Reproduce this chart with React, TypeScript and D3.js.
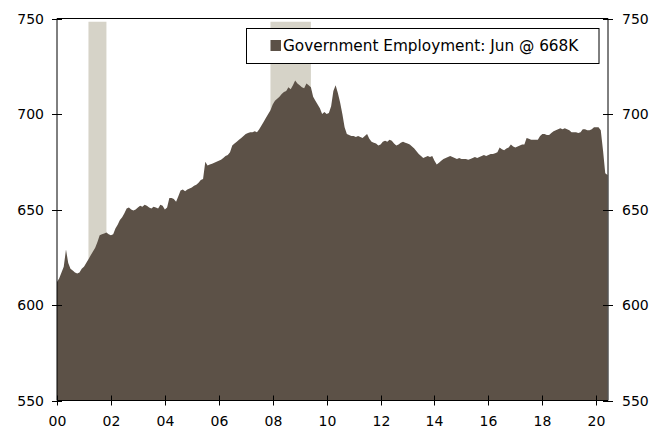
import React from "react";
import * as d3 from "d3";

// Monthly government employment (thousands), Jan 2000 .. Jun 2020
const v2000 = [612, 614, 617, 620, 629, 622, 619, 618, 617, 616.5, 617, 619];
const v2001 = [620, 622, 624, 626, 628, 630, 633, 636.5, 637, 637.5, 638, 637];
const v2002 = [636.5, 637, 640, 642, 644.5, 646, 648, 650.5, 651, 650, 649.5, 650];
const v2003 = [651, 652, 651.5, 652.5, 652, 651, 650.5, 651.5, 651, 650.5, 652.5, 652];
const v2004 = [650, 651, 656, 656, 655.5, 654, 657, 660, 660.5, 659.5, 660.5, 661];
const v2005 = [661.5, 662.5, 663, 664, 665.5, 666, 675, 673, 673.5, 674, 674.5, 675];
const v2006 = [675.5, 676, 677, 678, 678.5, 680, 683.5, 684.5, 685.5, 686.5, 687.5, 688.5];
const v2007 = [689.5, 690, 690.5, 690.5, 691, 690.5, 692, 694, 696, 698, 700, 702];
const v2008 = [705, 707, 708, 709, 710.5, 711.5, 712, 714, 713, 715, 717.5, 716];
const v2009 = [715, 714, 713.5, 716, 715, 714, 709, 707, 705, 703, 700, 701];
const v2010 = [700, 700.5, 704, 712, 715, 711, 706, 700, 693, 689.5, 689, 688.5];
const v2011 = [688.5, 688, 688.5, 688, 687.5, 688.5, 689.5, 687, 685.5, 685, 684.5, 683.5];
const v2012 = [684, 685.5, 686, 685.5, 686.5, 686, 684.5, 683.5, 684, 685, 685.5, 685];
const v2013 = [684.5, 684, 683, 682, 680.5, 679, 678, 677, 677.5, 678, 677.5, 678];
const v2014 = [675.5, 673.5, 674.5, 675.5, 676.5, 677, 677.5, 678, 677.5, 677, 676.5, 677];
const v2015 = [676.5, 676.5, 676.5, 676, 676.5, 677, 677.5, 677, 677.5, 678, 678.5, 678];
const v2016 = [678.5, 679, 679, 679.5, 680, 682.5, 681.5, 681, 682, 682.5, 684, 683];
const v2017 = [682.5, 683, 683.5, 684, 684, 687.5, 687, 686.5, 686.5, 686.5, 686.5, 688.5];
const v2018 = [689.5, 689.5, 689, 689, 690, 691, 691.5, 692, 692.5, 692, 692.5, 692];
const v2019 = [691.5, 690.5, 690.5, 690.5, 690, 690.5, 692, 692, 691.5, 691.5, 692, 693];
const v2020 = [693, 693, 691.5, 681, 669, 668];

const values: number[] = [
  ...v2000, ...v2001, ...v2002, ...v2003, ...v2004, ...v2005, ...v2006,
  ...v2007, ...v2008, ...v2009, ...v2010, ...v2011, ...v2012, ...v2013,
  ...v2014, ...v2015, ...v2016, ...v2017, ...v2018, ...v2019, ...v2020,
];

// Recessions as [start month index, end month index] from Jan 2000
const recessions: [number, number][] = [
  [14, 22],
  [95, 113],
];

const yTicks = [550, 600, 650, 700, 750];
const xTickYears = [0, 2, 4, 6, 8, 10, 12, 14, 16, 18, 20];
const xTickLabels = ["00", "02", "04", "06", "08", "10", "12", "14", "16", "18", "20"];
const legendLabel = "Government Employment: Jun @ 668K";

const W = 667;
const H = 430;
const left = 57;
const right = 608;
const top = 18.5;
const bottom = 400.5;

const AREA = "#5c5147";
const REC = "#d6d3c8";
const FONT = "'DejaVu Sans', Verdana, sans-serif";

export default function App() {
  const x = d3.scaleLinear().domain([0, values.length - 1]).range([left, right - 0.5]);
  const y = d3.scaleLinear().domain([550, 750]).range([bottom, top]);

  const area = d3
    .area<number>()
    .x((_, i) => x(i))
    .y0(y(550))
    .y1((d) => y(d));

  return (
    <svg
      width={W}
      height={H}
      style={{ position: "absolute", left: 0, top: 0, background: "#fff" }}
      fontFamily={FONT}
    >
      {recessions.map(([a, b], i) => (
        <rect
          key={i}
          x={x(a)}
          y={y(748.3)}
          width={x(b) - x(a)}
          height={y(550) - y(748.3)}
          fill={REC}
        />
      ))}
      <path d={area(values) || ""} fill={AREA} />
      {/* frame */}
      <line x1={left} x2={right} y1={top} y2={top} stroke="#000" />
      <line x1={left} x2={right} y1={bottom} y2={bottom} stroke="#000" />
      <line x1={left} x2={left} y1={top} y2={bottom} stroke="#000" />
      <line x1={right} x2={right} y1={top} y2={bottom} stroke="#000" />
      {yTicks.map((t) => (
        <g key={t}>
          <line x1={left - 5} x2={left + 5} y1={Math.round(y(t)) + 0.5} y2={Math.round(y(t)) + 0.5} stroke="#000" />
          <line x1={right - 5} x2={right + 5} y1={Math.round(y(t)) + 0.5} y2={Math.round(y(t)) + 0.5} stroke="#000" />
          <text x={left - 13} y={y(t) + 5} fontSize={14} textAnchor="end" fill="#000">
            {t}
          </text>
          <text x={right + 14} y={y(t) + 5} fontSize={14} textAnchor="start" fill="#000">
            {t}
          </text>
        </g>
      ))}
      {xTickYears.map((yr, i) => {
        const xx = Math.round(x(yr * 12)) + 0.5;
        return (
          <g key={yr}>
            <line x1={xx} x2={xx} y1={bottom - 5} y2={bottom + 5} stroke="#000" />
            <text x={xx} y={426} fontSize={14} textAnchor="middle" fill="#000">
              {xTickLabels[i]}
            </text>
          </g>
        );
      })}
      {/* legend */}
      <rect x={246.5} y={28.5} width={352.5} height={35} fill="#fff" stroke="#000" />
      <rect x={270.5} y={40} width={10.5} height={11} fill={AREA} />
      <text x={283} y={51} fontSize={15.3} fill="#000">
        {legendLabel}
      </text>
    </svg>
  );
}
